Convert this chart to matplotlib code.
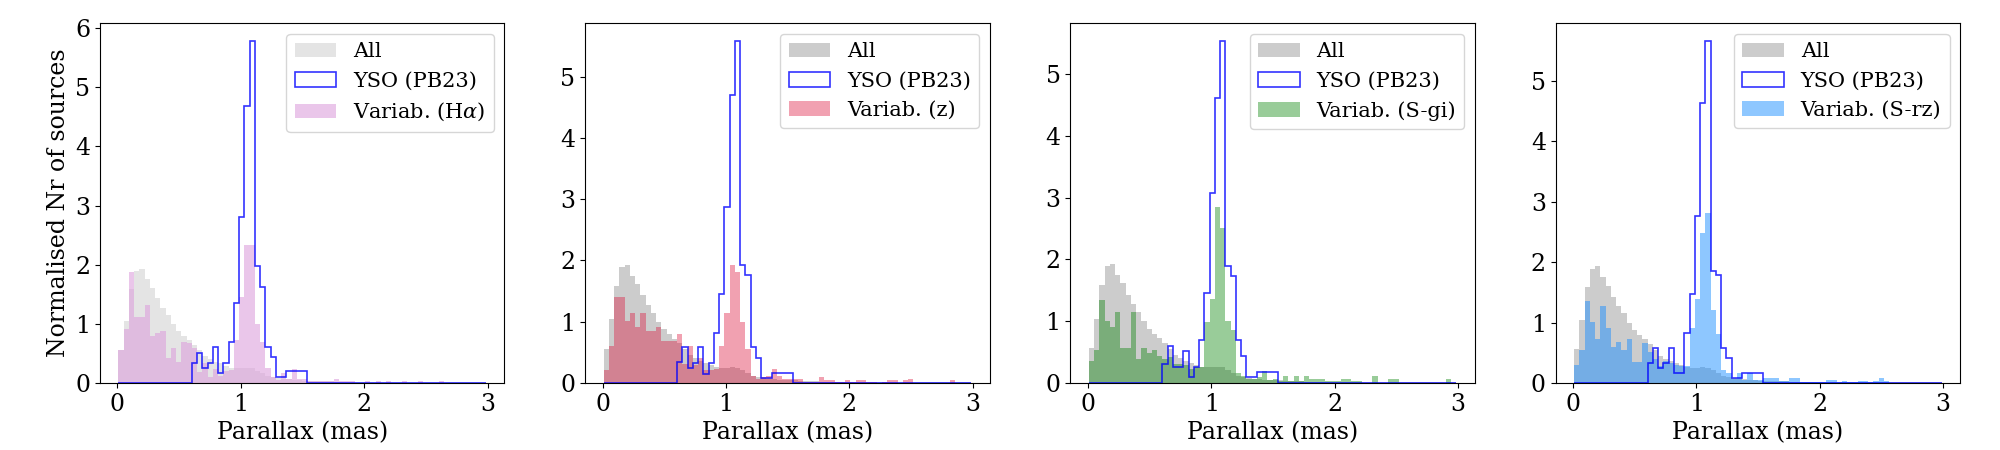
import numpy as np
import matplotlib
matplotlib.use('Agg')
from matplotlib import pyplot as plt

plt.rcParams['font.family'] = 'serif'
plt.rcParams['font.serif'] = ['DejaVu Serif']
plt.rcParams['mathtext.fontset'] = 'dejavuserif'

# histogram bins (parallax, mas): 70 bins between data min and max
bin_lo = 0.008
bin_hi = 2.987
n_bins = 70

# normalised counts per bin
all_src = [0.56, 1.04, 1.59, 1.89, 1.93, 1.75, 1.61, 1.43, 1.27, 1.15,
           1.00, 0.88, 0.80, 0.72, 0.65, 0.55, 0.45, 0.40, 0.36, 0.33,
           0.29, 0.26, 0.25, 0.25, 0.26, 0.25, 0.21, 0.16, 0.12, 0.10,
           0.08, 0.07, 0.06, 0.05, 0.05, 0.04, 0.04, 0.03, 0.03, 0.03,
           0.03, 0.02, 0.02, 0.02, 0.02, 0.02, 0.02, 0.02, 0.02, 0.02,
           0.015, 0.015, 0.015, 0.015, 0.015, 0.015, 0.015, 0.015, 0.015, 0.015,
           0.01, 0.01, 0.01, 0.01, 0.01, 0.01, 0.01, 0.01, 0.01, 0.01]

yso_ha = [0, 0, 0, 0, 0, 0, 0, 0, 0, 0,
          0, 0, 0, 0, 0.34, 0.51, 0.26, 0.34, 0.60, 0.17,
          0.34, 0.69, 1.35, 2.81, 4.69, 5.79, 1.97, 1.63, 0.60, 0.44,
          0.10, 0.10, 0.20, 0.20, 0.20, 0.20, 0, 0, 0, 0,
          0, 0, 0, 0, 0, 0, 0, 0, 0, 0,
          0, 0, 0, 0, 0, 0, 0, 0, 0, 0,
          0, 0, 0, 0, 0, 0, 0, 0, 0, 0]
yso_z = [0, 0, 0, 0, 0, 0, 0, 0, 0, 0,
         0, 0, 0, 0, 0.34, 0.58, 0.24, 0.33, 0.58, 0.15,
         0.33, 0.81, 1.45, 2.88, 4.70, 5.59, 1.93, 1.76, 0.58, 0.40,
         0.08, 0.08, 0.17, 0.17, 0.17, 0.17, 0, 0, 0, 0,
         0, 0, 0, 0, 0, 0, 0, 0, 0, 0,
         0, 0, 0, 0, 0, 0, 0, 0, 0, 0,
         0, 0, 0, 0, 0, 0, 0, 0, 0, 0]
yso_gi = [0, 0, 0, 0, 0, 0, 0, 0, 0, 0,
          0, 0, 0, 0, 0.31, 0.60, 0.25, 0.25, 0.52, 0.09,
          0.25, 0.70, 1.46, 3.07, 4.61, 5.54, 1.89, 1.73, 0.70, 0.43,
          0.09, 0.09, 0.18, 0.18, 0.18, 0.18, 0, 0, 0, 0,
          0, 0, 0, 0, 0, 0, 0, 0, 0, 0,
          0, 0, 0, 0, 0, 0, 0, 0, 0, 0,
          0, 0, 0, 0, 0, 0, 0, 0, 0, 0]
yso_rz = [0, 0, 0, 0, 0, 0, 0, 0, 0, 0,
          0, 0, 0, 0, 0.33, 0.58, 0.25, 0.33, 0.58, 0.17,
          0.17, 0.83, 1.47, 2.76, 4.63, 5.67, 1.86, 1.79, 0.58, 0.41,
          0.08, 0.08, 0.17, 0.17, 0.17, 0.17, 0, 0, 0, 0,
          0, 0, 0, 0, 0, 0, 0, 0, 0, 0,
          0, 0, 0, 0, 0, 0, 0, 0, 0, 0,
          0, 0, 0, 0, 0, 0, 0, 0, 0, 0]

var_ha = [0.55, 0.92, 1.87, 1.12, 1.12, 1.32, 0.80, 0.84, 0.88, 0.42,
          0.59, 0.35, 0.70, 0.67, 0.59, 0.18, 0.34, 0.10, 0.24, 0.12,
          0.21, 0.22, 0.72, 1.45, 2.34, 2.34, 0.99, 0.69, 0.25, 0.10,
          0.05, 0.16, 0.06, 0.24, 0.06, 0.06, 0.03, 0.04, 0.04, 0.04,
          0.03, 0.07, 0.04, 0.03, 0.03, 0, 0, 0.04, 0, 0.04,
          0, 0.04, 0, 0, 0.04, 0, 0, 0.04, 0, 0,
          0, 0.04, 0, 0, 0, 0, 0, 0, 0, 0]
var_z = [0.21, 0.61, 1.40, 1.40, 1.01, 1.15, 0.92, 1.15, 0.84, 0.84,
         0.92, 0.69, 0.68, 0.68, 0.80, 0.31, 0.61, 0.29, 0.40, 0.21,
         0.21, 0.23, 0.60, 1.15, 1.93, 1.81, 0.99, 0.56, 0.12, 0.07,
         0.10, 0.11, 0.22, 0.12, 0.07, 0.07, 0.07, 0.07, 0.02, 0.02,
         0.02, 0.10, 0.04, 0.04, 0.02, 0.02, 0.04, 0.02, 0.04, 0.04,
         0.02, 0.02, 0, 0.02, 0.04, 0.04, 0, 0.04, 0.07, 0,
         0, 0, 0, 0, 0, 0, 0.04, 0, 0, 0]
var_gi = [0.35, 0.54, 1.35, 1.00, 0.91, 1.15, 0.56, 0.56, 1.15, 0.39,
          0.56, 0.49, 0.53, 0.43, 0.38, 0.42, 0.31, 0.31, 0.29, 0.23,
          0.25, 0.25, 0.99, 1.36, 2.84, 2.51, 1.00, 0.85, 0.16, 0.11,
          0.07, 0.07, 0.10, 0.20, 0.04, 0.07, 0.03, 0.12, 0.03, 0.12,
          0.03, 0.12, 0.07, 0.07, 0.07, 0.03, 0.03, 0.03, 0.07, 0.07,
          0.03, 0.03, 0, 0, 0.12, 0, 0, 0.07, 0.07, 0,
          0, 0, 0, 0, 0, 0, 0, 0, 0.07, 0]
var_rz = [0.30, 0.55, 1.35, 1.01, 0.73, 1.28, 0.91, 0.59, 0.67, 0.55,
          0.73, 0.34, 0.34, 0.66, 0.52, 0.39, 0.28, 0.37, 0.33, 0.30,
          0.28, 0.28, 0.91, 1.39, 2.48, 2.81, 1.20, 0.81, 0.22, 0.17,
          0.07, 0.17, 0.05, 0.17, 0.05, 0.05, 0.08, 0.08, 0.08, 0.03,
          0.03, 0.08, 0.08, 0.02, 0.02, 0.02, 0.02, 0.02, 0.05, 0.05,
          0.02, 0.04, 0.02, 0.02, 0.04, 0.04, 0.02, 0.04, 0.08, 0.04,
          0, 0, 0, 0, 0, 0, 0, 0, 0, 0]

panels = [
    (yso_ha, var_ha, 'Variab. (H$\\alpha$)', 'plum', 0.6, 'lightgray', 0.6),
    (yso_z, var_z, 'Variab. (z)', 'crimson', 0.4, 'gray', 0.4),
    (yso_gi, var_gi, 'Variab. (S-gi)', 'green', 0.4, 'gray', 0.4),
    (yso_rz, var_rz, 'Variab. (S-rz)', 'dodgerblue', 0.5, 'gray', 0.4),
]

edges = np.linspace(bin_lo, bin_hi, n_bins + 1)
centers = 0.5 * (edges[1:] + edges[:-1])

fig, axes = plt.subplots(1, 4, figsize=(20, 4.5), dpi=100)
fig.subplots_adjust(left=0.05, right=0.98, bottom=0.149, top=0.948, wspace=0.2)

for ax, (yso, var, lab, col, alp, allcol, allalp) in zip(axes, panels):
    ax.hist(centers, bins=edges, weights=all_src, histtype='stepfilled',
            color=allcol, alpha=allalp, label='All')
    ax.hist(centers, bins=edges, weights=yso, histtype='step',
            color='blue', alpha=0.8, lw=1.2, label='YSO (PB23)', zorder=3)
    ax.hist(centers, bins=edges, weights=var, histtype='stepfilled',
            color=col, alpha=alp, label=lab)
    ax.set_xlabel('Parallax (mas)', fontsize=17)
    ax.tick_params(labelsize=17)
    ax.set_xticks([0, 1, 2, 3])
    ax.legend(loc='upper right', fontsize=15)

axes[0].set_ylabel('Normalised Nr of sources', fontsize=17)

plt.savefig('out.png')
